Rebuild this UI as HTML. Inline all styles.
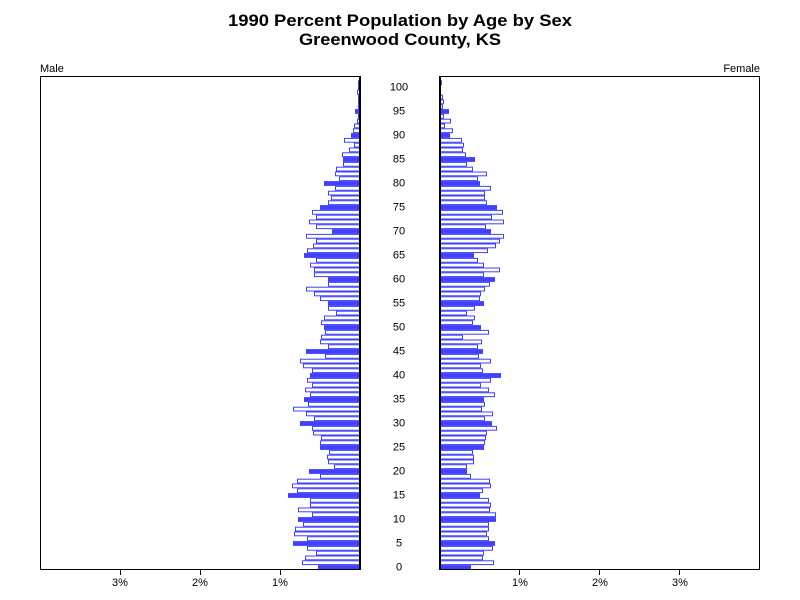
<!DOCTYPE html>
<html><head><meta charset="utf-8"><style>
html,body{margin:0;padding:0;background:#fff;}
svg{display:block;font-family:"Liberation Sans",Arial,sans-serif;}
</style></head><body>
<svg id="s" width="800" height="600" xmlns="http://www.w3.org/2000/svg">
<rect width="800" height="600" fill="#fff"/>
<text x="400" y="26" text-anchor="middle" font-size="17" font-weight="bold" textLength="344" lengthAdjust="spacingAndGlyphs">1990 Percent Population by Age by Sex</text>
<text x="400" y="45" text-anchor="middle" font-size="17" font-weight="bold" textLength="202" lengthAdjust="spacingAndGlyphs">Greenwood County, KS</text>
<text x="40" y="72" font-size="11">Male</text>
<text x="760" y="72" font-size="11" text-anchor="end">Female</text>
<g id="bars"></g>
<g stroke="#000" stroke-width="1" fill="none">
<path d="M40 76.5H360M40.5 76V570M40 569.5H360"/>
<path d="M440 76.5H760M759.5 76V570M440 569.5H760"/>
<path d="M120.5 569V575M200.5 569V575M280.5 569V575M519.5 569V575M599.5 569V575M679.5 569V575"/>
</g>
<g stroke="#000" stroke-width="2"><path d="M360 76V570M440 76V570"/></g>
<g font-size="11" text-anchor="middle">
<text x="120" y="586">3%</text><text x="200" y="586">2%</text><text x="280" y="586">1%</text>
<text x="520" y="586">1%</text><text x="600" y="586">2%</text><text x="680" y="586">3%</text>
</g>
<g id="lab" font-size="11" text-anchor="middle"></g>
</svg>
<script>
var L={101:358,100:358,99:357,98:358,97:358,96:358,95:355,94:358,93:357,92:354,91:353,90:351,89:344,88:354,87:349,86:342,85:343,84:343,83:336,82:335,81:339,80:324,79:335,78:328,77:331,76:328,75:320,74:312,73:316,72:309,71:316,70:332,69:306,68:316,67:313,66:307,65:304,64:316,63:310,62:314,61:314,60:328,59:328,58:306,57:314,56:320,55:328,54:328,53:336,52:324,51:321,50:324,49:325,48:321,47:320,46:328,45:306,44:325,43:300,42:303,41:312,40:310,39:307,38:312,37:305,36:310,35:304,34:308,33:293,32:306,31:314,30:300,29:312,28:313,27:321,26:320,25:320,24:329,23:327,22:328,21:334,20:309,19:320,18:297,17:292,16:297,15:288,14:310,13:310,12:298,11:312,10:298,9:303,8:295,7:294,6:307,5:293,4:307,3:316,2:305,1:302,0:318};
var R={101:442,100:441,99:441,98:443,97:444,96:443,95:449,94:444,93:451,92:445,91:453,90:450,89:462,88:464,87:463,86:466,85:475,84:467,83:473,82:487,81:478,80:480,79:491,78:485,77:485,76:487,75:497,74:503,73:492,72:504,71:486,70:491,69:504,68:500,67:496,66:488,65:474,64:478,63:484,62:500,61:484,60:495,59:490,58:485,57:481,56:480,55:484,54:475,53:467,52:475,51:473,50:481,49:489,48:463,47:482,46:478,45:483,44:479,43:491,42:481,41:483,40:501,39:491,38:481,37:489,36:495,35:484,34:485,33:482,32:493,31:485,30:492,29:497,28:487,27:486,26:485,25:484,24:473,23:474,22:474,21:467,20:467,19:471,18:490,17:491,16:483,15:480,14:489,13:491,12:490,11:496,10:496,9:489,8:489,7:487,6:489,5:495,4:493,3:484,2:483,1:494,0:471};
var ns="http://www.w3.org/2000/svg",g=document.getElementById('bars'),lb=document.getElementById('lab'),h=4.8;
function rect(x,y,w,f){var r=document.createElementNS(ns,'rect');
 if(f){r.setAttribute('x',x);r.setAttribute('y',y);r.setAttribute('width',w);r.setAttribute('height',h);r.setAttribute('fill','#4040ff');}
 else{r.setAttribute('x',x+0.5);r.setAttribute('y',y+0.5);r.setAttribute('width',Math.max(w-1,0));r.setAttribute('height',h-1);r.setAttribute('fill','#fff');r.setAttribute('stroke','#4040ff');r.setAttribute('stroke-width','1');}
 g.appendChild(r);}
for(var a=0;a<=101;a++){var c=567.5-h*a;var y=c-h/2;var f=(a%5==0&&a<=100);
 if(y<77)y=77;
 rect(L[a],y,360-L[a],f);rect(440,y,R[a]-440,f);
 if(a%5==0&&a<=100){var t=document.createElementNS(ns,'text');t.setAttribute('x',399);t.setAttribute('y',(c+3).toFixed(1));t.textContent=a;lb.appendChild(t);}}
</script>
</body></html>
